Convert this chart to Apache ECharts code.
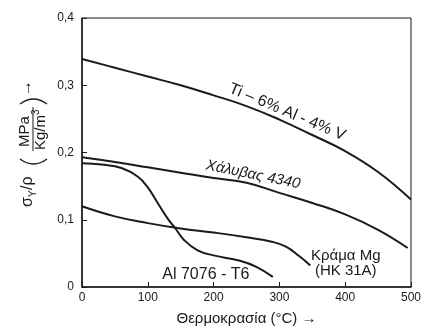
<!DOCTYPE html>
<html>
<head>
<meta charset="utf-8">
<script src="https://cdn.jsdelivr.net/npm/echarts@6/dist/echarts.min.js"></script>
<style>
  html, body { margin: 0; padding: 0; background: #fff; }
  #chart { width: 424px; height: 331px; }
</style>
</head>
<body>
<div id="chart"></div>
<script>
// temperatures (°C) and specific yield strength σy/ρ
const tiTemp = [0, 50, 100, 150, 200, 250, 300, 350, 400, 450, 500]
const tiRatio = [0.339, 0.326, 0.313, 0.300, 0.285, 0.269, 0.249, 0.226, 0.202, 0.171, 0.130]

const steelTemp = [0, 50, 100, 150, 200, 250, 300, 350, 400, 450, 495]
const steelRatio = [0.193, 0.186, 0.178, 0.170, 0.162, 0.155, 0.140, 0.125, 0.108, 0.085, 0.058]

const alTemp = [0, 30, 60, 85, 100, 115, 130, 142, 155, 175, 200, 240, 265, 290]
const alRatio = [0.184, 0.182, 0.177, 0.164, 0.148, 0.125, 0.102, 0.087, 0.070, 0.055, 0.047, 0.039, 0.030, 0.015]

const mgTemp = [0, 50, 100, 150, 200, 250, 290, 310, 330, 347]
const mgRatio = [0.120, 0.105, 0.095, 0.087, 0.081, 0.074, 0.067, 0.060, 0.046, 0.032]

const xTicks = [0, 100, 200, 300, 400, 500]
const yTicks = [0, 0.1, 0.2, 0.3, 0.4]

const ink = '#1a1a1a'
const font = '"Liberation Sans", Arial, sans-serif'

function pairs(xs, ys) {
  return xs.map((x, i) => [x, ys[i]])
}

function curve(name, xs, ys) {
  return {
    name: name,
    type: 'line',
    data: pairs(xs, ys),
    smooth: 0.45,
    showSymbol: false,
    silent: true,
    lineStyle: { color: ink, width: 2 },
  }
}

let chart = echarts.init(document.getElementById('chart'))

chart.setOption({
  animation: false,
  backgroundColor: '#fff',
  grid: {
    left: 82,
    right: 9,
    top: 18,
    bottom: 42,
    show: true,
    borderColor: ink,
    borderWidth: 1,
  },
  xAxis: {
    type: 'value',
    min: xTicks[0],
    max: xTicks[xTicks.length - 1],
    interval: 100,
    name: 'Θερμοκρασία (°C) →',
    nameLocation: 'middle',
    nameGap: 24,
    nameTextStyle: { fontFamily: font, fontSize: 15, color: ink },
    axisLine: { lineStyle: { color: ink, width: 1.5 } },
    axisTick: { inside: true, length: 5, lineStyle: { color: ink } },
    axisLabel: { fontFamily: font, fontSize: 12, color: ink, margin: 5 },
    splitLine: { show: false },
  },
  yAxis: {
    type: 'value',
    min: yTicks[0],
    max: yTicks[yTicks.length - 1],
    interval: 0.1,
    axisLine: { show: true, lineStyle: { color: ink, width: 1.5 } },
    axisTick: { show: true, inside: true, length: 5, lineStyle: { color: ink } },
    axisLabel: {
      fontFamily: font,
      fontSize: 12,
      color: ink,
      margin: 8,
      formatter: function (v) {
        return v === 0 ? '0' : v.toFixed(1).replace('.', ',')
      },
    },
    splitLine: { show: false },
  },
  series: [
    curve('Ti – 6% Al - 4% V', tiTemp, tiRatio),
    curve('Χάλυβας 4340', steelTemp, steelRatio),
    curve('Al 7076 - T6', alTemp, alRatio),
    curve('Κράμα Mg (HK 31A)', mgTemp, mgRatio),
  ],
})

// curve labels are anchored in data coordinates
function at(x, y) {
  return chart.convertToPixel({ gridIndex: 0 }, [x, y])
}

function label(text, x, y, opts) {
  let p = at(x, y)
  return {
    type: 'text',
    x: p[0],
    y: p[1],
    rotation: opts.rotation || 0,
    style: {
      text: text,
      fill: ink,
      font: (opts.italic ? 'italic ' : '') + opts.size + 'px ' + font,
      align: opts.align || 'center',
      verticalAlign: 'middle',
    },
  }
}

function txt(text, x, y, size) {
  return {
    type: 'text',
    x: x,
    y: y,
    style: { text: text, font: size + 'px ' + font, fill: ink, verticalAlign: 'middle' },
  }
}

function paren(x0, bulge) {
  // drawn as a curve in the rotated group's frame
  return {
    type: 'bezierCurve',
    shape: { x1: x0, y1: -13, x2: x0, y2: 14, cpx1: x0 + bulge, cpy1: 0.5 },
    style: { stroke: ink, lineWidth: 1.3, fill: null },
  }
}

// y-axis title: σY/ρ (MPa / Kg/m³) →, rotated to read upward
const yTitle = {
  type: 'group',
  x: 33,
  y: 207,
  rotation: Math.PI / 2,
  children: [
    txt('σ', 0, -5, 16),
    txt('Y', 10, 0, 10),
    txt('/ρ', 17, -5, 16),
    paren(48, -10),
    txt('MPa', 60, -8, 15),
    { type: 'line', shape: { x1: 56, y1: 0, x2: 100, y2: 0 }, style: { stroke: ink, lineWidth: 1 } },
    txt('Kg/m', 57, 8, 15),
    txt('3', 92, 3, 10),
    paren(103, 10),
    txt('→', 111, -6, 16),
  ],
}

chart.setOption({
  graphic: [
    label('Ti – 6% Al - 4% V', 312, 0.26, { size: 16, rotation: -0.4 }),
    label('Χάλυβας 4340', 260, 0.167, { size: 15, rotation: -0.2, italic: true }),
    label('Al 7076 - T6', 122, 0.018, { size: 16, align: 'left' }),
    label('Κράμα Mg', 348, 0.046, { size: 15, align: 'left' }),
    label('(HK 31A)', 354, 0.024, { size: 15, align: 'left' }),
    yTitle,
  ],
})

window.addEventListener('resize', function () {
  chart.resize()
})
</script>
</body>
</html>
